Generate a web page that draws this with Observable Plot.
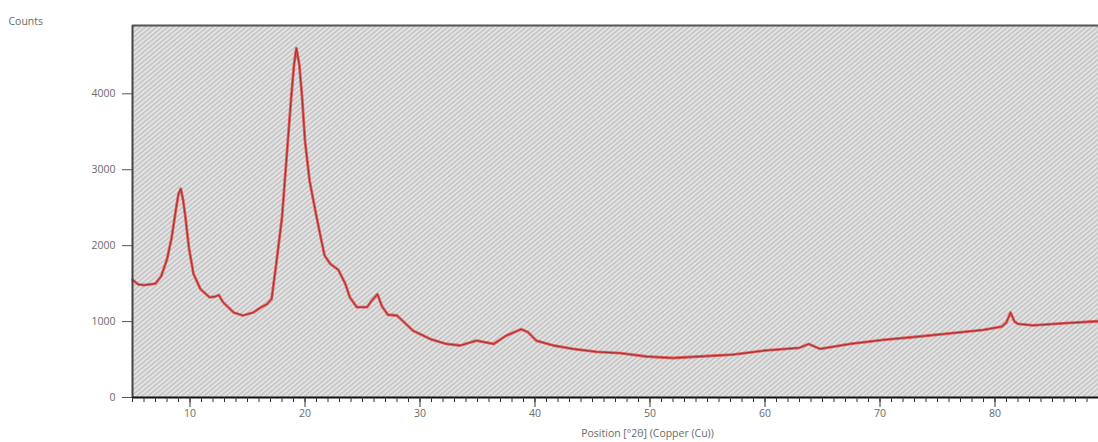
<!DOCTYPE html>
<html><head><meta charset="utf-8">
<script src="https://cdn.jsdelivr.net/npm/d3@7"></script>
<script src="https://cdn.jsdelivr.net/npm/@observablehq/plot@0.6"></script>
<style>body{margin:0;background:#fff;overflow:hidden}</style>
</head><body><div id="chart"></div>
<script>
const position = [5, 5.5, 6, 6.5, 7, 7.5, 8, 8.4, 8.8, 9.0, 9.2, 9.4, 9.6, 9.9, 10.3, 10.9, 11.7, 12.2, 12.5, 12.9, 13.8, 14.6, 15.5, 16.2, 16.7, 17.1, 17.5, 18.0, 18.4, 18.8, 19.05, 19.25, 19.5, 19.75, 20.0, 20.4, 20.9, 21.3, 21.7, 22.2, 22.9, 23.5, 23.9, 24.5, 25.4, 25.8, 26.3, 26.7, 27.2, 28.0, 29.4, 30.9, 32.3, 33.5, 34.9, 36.4, 37.5, 38.8, 39.4, 40.1, 41.6, 43.3, 45.4, 47.4, 49.7, 52.0, 54.3, 57.2, 60.1, 63.0, 63.8, 64.8, 67.4, 70.3, 73.2, 76.1, 79.0, 80.6, 81.0, 81.35, 81.7, 82.0, 83.3, 86.2, 89];
const counts = [1550, 1490, 1480, 1490, 1500, 1600, 1820, 2100, 2500, 2680, 2750, 2600, 2380, 1980, 1630, 1430, 1320, 1330, 1350, 1250, 1120, 1080, 1120, 1190, 1230, 1300, 1760, 2370, 3160, 3950, 4390, 4600, 4390, 3950, 3380, 2855, 2460, 2160, 1870, 1760, 1680, 1500, 1320, 1190, 1190, 1275, 1360, 1200, 1090, 1080, 880, 770, 705, 685, 750, 705, 815, 900, 860, 750, 685, 640, 600, 585, 540, 520, 540, 565, 620, 655, 705, 640, 705, 760, 800, 845, 890, 935, 990, 1120, 1000, 970, 950, 980, 1005];
const xMajorTicks = [10, 20, 30, 40, 50, 60, 70, 80];
const xMinorTicks = d3.range(5, 90);
const yTicks = [0, 1000, 2000, 3000, 4000];
const xDomain = [5, 89];
const yDomain = [0, 4900];
const yLabel = "Counts";
const xLabel = "Position [°2θ] (Copper (Cu))";

const data = position.map((p, i) => ({position: p, counts: counts[i]}));

const chart = Plot.plot({
  width: 1098, height: 442,
  marginLeft: 132, marginRight: 0, marginTop: 25, marginBottom: 45,
  style: {fontFamily: "'Open Sans', sans-serif", fontSize: "10.5px", color: "#6a6a6a", background: "#fff"},
  x: {domain: xDomain},
  y: {domain: yDomain},
  marks: [
    Plot.frame({fill: "#dfdfdf", stroke: "none"}),
    Plot.line(data, {x: "position", y: "counts", stroke: "#e02828", strokeWidth: 2.8, strokeOpacity: 0.7}),
    Plot.line(data, {x: "position", y: "counts", stroke: "#9a2525", strokeWidth: 0.8}),
    Plot.ruleX([xDomain[0]], {stroke: "#444", strokeWidth: 2}),
    Plot.ruleY([yDomain[1]], {stroke: "#555", strokeWidth: 2}),
    Plot.ruleY([0], {stroke: "#111", strokeWidth: 2}),
    Plot.axisY({ticks: yTicks, tickSize: 10, tickPadding: 7, tickFormat: "d", label: null, stroke: "#555"}),
    Plot.axisX({ticks: xMinorTicks, tickSize: 5, tickFormat: () => "", label: null, stroke: "#333"}),
    Plot.axisX({ticks: xMajorTicks, tickSize: 10, tickPadding: 2, tickFormat: "d", label: null, stroke: "#333"}),
    Plot.text([yLabel], {text: d => d, frameAnchor: "top-left", dx: -124, dy: -8, textAnchor: "start", fill: "#6a6a6a"}),
    Plot.text([xLabel], {text: d => d, frameAnchor: "bottom", dx: 32, dy: 39, fill: "#6a6a6a"})
  ]
});

const svg = chart.tagName.toLowerCase() === "svg" ? chart : chart.querySelector("svg");
const NS = "http://www.w3.org/2000/svg";
const defs = document.createElementNS(NS, "defs");
const pat = document.createElementNS(NS, "pattern");
pat.setAttribute("id", "hatch");
pat.setAttribute("width", "3.6");
pat.setAttribute("height", "3.6");
pat.setAttribute("patternUnits", "userSpaceOnUse");
pat.setAttribute("patternTransform", "rotate(50)");
const bg = document.createElementNS(NS, "rect");
bg.setAttribute("width", "3.6"); bg.setAttribute("height", "3.6"); bg.setAttribute("fill", "#e4e4e4");
const ln = document.createElementNS(NS, "line");
ln.setAttribute("x1", "1.8"); ln.setAttribute("x2", "1.8"); ln.setAttribute("y1", "0"); ln.setAttribute("y2", "3.6");
ln.setAttribute("stroke", "#ababab"); ln.setAttribute("stroke-width", "0.9");
pat.appendChild(bg); pat.appendChild(ln); defs.appendChild(pat);
svg.insertBefore(defs, svg.firstChild);
svg.querySelectorAll("[fill='#dfdfdf']").forEach(el => el.setAttribute("fill", "url(#hatch)"));
document.getElementById("chart").appendChild(chart);
</script>
</body></html>
